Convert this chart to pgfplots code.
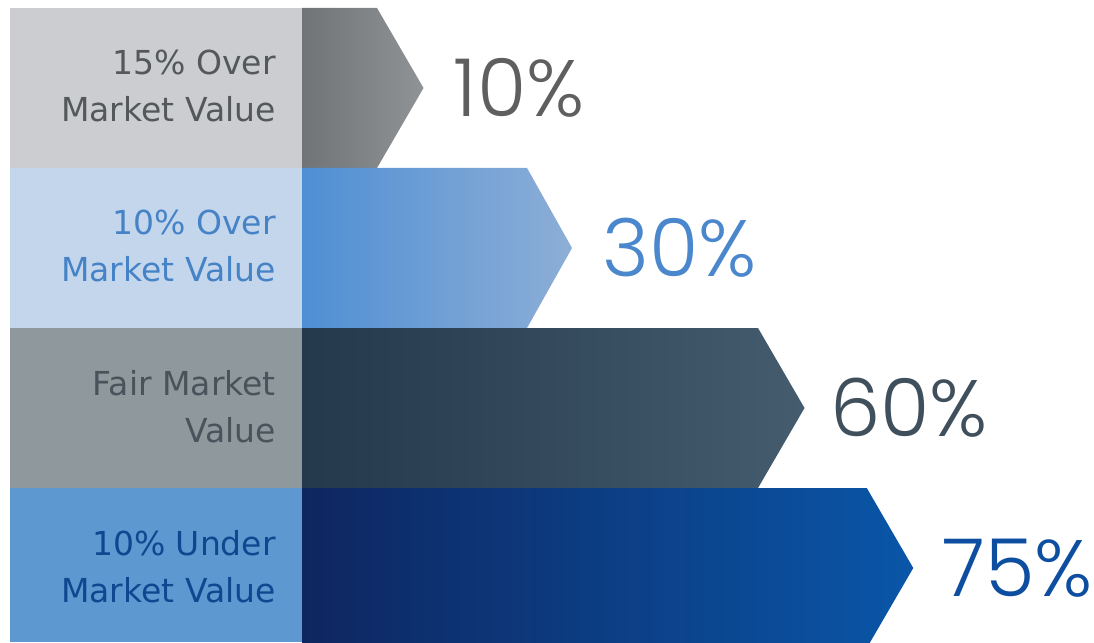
\documentclass[border=0pt]{standalone}
\usepackage{pgfplots}
\pgfplotsset{compat=1.18}
\usepackage{fontspec}
\setmainfont{DejaVu Sans}
\newfontfamily\numfont{Poppins Light}
\definecolor{lab1}{HTML}{CBCDD0}
\definecolor{lab2}{HTML}{C3D6EC}
\definecolor{lab3}{HTML}{8F989D}
\definecolor{lab4}{HTML}{5E98D0}
\definecolor{t1}{HTML}{55585B}
\definecolor{t2}{HTML}{4683C6}
\definecolor{t3}{HTML}{48535B}
\definecolor{t4}{HTML}{0D4890}
\definecolor{b1l}{HTML}{707477}
\definecolor{b1r}{HTML}{909396}
\definecolor{b2l}{HTML}{4F8FD4}
\definecolor{b2r}{HTML}{8DAED6}
\definecolor{b3l}{HTML}{24394B}
\definecolor{b3r}{HTML}{445C6E}
\definecolor{b4l}{HTML}{0E2660}
\definecolor{b4r}{HTML}{0A56A8}
\definecolor{v1}{HTML}{5F5F5F}
\definecolor{v2}{HTML}{4A87CC}
\definecolor{v3}{HTML}{3F4F5C}
\definecolor{v4}{HTML}{0E4EA0}
\begin{document}
\begin{tikzpicture}
\begin{axis}[width=1094pt,height=642pt,scale only axis,hide axis,
  xmin=-40.27,xmax=105.6,ymin=-0.4625,ymax=3.55,clip=false]
% label boxes
\addplot[draw=none,fill=lab1] coordinates {(-38.93,2.5) (0,2.5) (0,3.5) (-38.93,3.5)} -- cycle;
\addplot[draw=none,fill=lab2] coordinates {(-38.93,1.5) (0,1.5) (0,2.5) (-38.93,2.5)} -- cycle;
\addplot[draw=none,fill=lab3] coordinates {(-38.93,0.5) (0,0.5) (0,1.5) (-38.93,1.5)} -- cycle;
\addplot[draw=none,fill=lab4] coordinates {(-38.93,-0.4625) (0,-0.4625) (0,0.5) (-38.93,0.5)} -- cycle;
% arrow bars: value v, tip depth 6.2
\addplot[draw=none,left color=b1l,right color=b1r] coordinates {(0,2.5) (10,2.5) (16.2,3) (10,3.5) (0,3.5)} -- cycle;
\addplot[draw=none,left color=b2l,right color=b2r] coordinates {(0,1.5) (30,1.5) (36.0,2) (30,2.5) (0,2.5)} -- cycle;
\addplot[draw=none,left color=b3l,right color=b3r] coordinates {(0,0.5) (60.8,0.5) (67.0,1) (60.8,1.5) (0,1.5)} -- cycle;
\addplot[draw=none,left color=b4l,right color=b4r] coordinates {(0,-0.5) (75.3,-0.5) (81.5,0) (75.3,0.5) (0,0.5)} -- cycle;
% left labels
\node[anchor=east,align=right,inner sep=0pt,text=t1,font=\fontsize{33}{47}\selectfont] at (axis cs:-3.47,3.01) {15\% Over\\Market Value};
\node[anchor=east,align=right,inner sep=0pt,text=t2,font=\fontsize{33}{47}\selectfont] at (axis cs:-3.47,2.01) {10\% Over\\Market Value};
\node[anchor=east,align=right,inner sep=0pt,text=t3,font=\fontsize{33}{47}\selectfont] at (axis cs:-3.47,1.01) {Fair Market\\Value};
\node[anchor=east,align=right,inner sep=0pt,text=t4,font=\fontsize{33}{47}\selectfont] at (axis cs:-3.47,0.01) {10\% Under\\Market Value};
% value labels
\node[anchor=west,inner sep=0pt,text=v1,font=\numfont\fontsize{80}{80}\selectfont] at (axis cs:20.2,3) {10\%};
\node[anchor=west,inner sep=0pt,text=v2,font=\numfont\fontsize{80}{80}\selectfont] at (axis cs:40.0,2) {30\%};
\node[anchor=west,inner sep=0pt,text=v3,font=\numfont\fontsize{80}{80}\selectfont] at (axis cs:70.4,1) {60\%};
\node[anchor=west,inner sep=0pt,text=v4,font=\numfont\fontsize{80}{80}\selectfont] at (axis cs:85.4,0) {75\%};
\end{axis}
\pgfresetboundingbox
\useasboundingbox (current axis.south west) rectangle (current axis.north east);
\end{tikzpicture}
\end{document}
